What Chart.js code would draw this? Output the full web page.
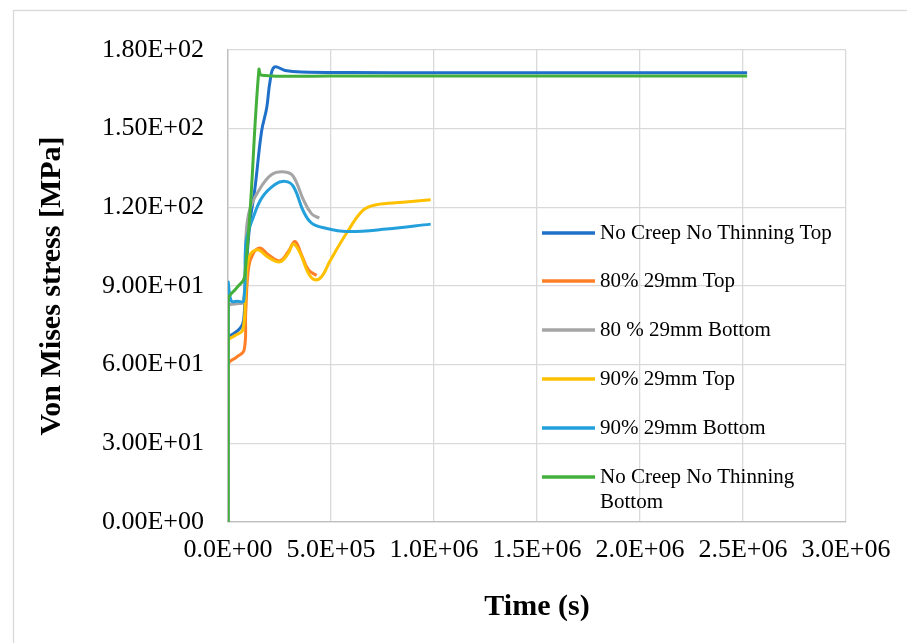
<!DOCTYPE html>
<html>
<head>
<meta charset="utf-8">
<script src="https://cdn.jsdelivr.net/npm/chart.js@4/dist/chart.umd.min.js"></script>
<style>
  body { margin: 0; background: #fff; }
</style>
</head>
<body>
<canvas id="stressChart" width="907" height="643"></canvas>
<script>
// series labels
const seriesNames = [
  "No Creep No Thinning Top",
  "80% 29mm Top",
  "80 % 29mm Bottom",
  "90% 29mm Top",
  "90% 29mm Bottom",
  "No Creep No Thinning Bottom",
];
const seriesColors = ["#1f70c8", "#ff7f27", "#a5a5a5", "#ffc000", "#23a0dc", "#44b03c"];

// time (s) and von mises stress (MPa)
const noCreepTopT = [0, 1e3, 3e4, 6e4, 7.6e4, 8.5e4, 1.05e5, 1.31e5, 1.63e5, 1.88e5, 2.04e5, 2.25e5, 2.77e5, 3.57e5, 6e5, 1e6, 1.5e6, 2e6, 2.52e6];
const noCreepTopS = [0, 70.1, 72, 74, 77, 92, 113, 127.4, 149, 158, 168, 173.5, 172.2, 171.6, 171.4, 171.3, 171.3, 171.3, 171.3];

const top80T = [0, 1e3, 4e4, 7.8e4, 8.6e4, 1.0e5, 1.23e5, 1.55e5, 1.96e5, 2.52e5, 2.93e5, 3.25e5, 3.57e5, 3.9e5, 4.3e5];
const top80S = [0, 60, 62.8, 65.5, 80, 97, 102.5, 104.5, 101.9, 99.6, 103.2, 107, 101.9, 96.2, 94];

const bottom80T = [0, 1e3, 4e4, 7.5e4, 8.8e4, 1.05e5, 1.47e5, 2.12e5, 2.77e5, 3.17e5, 3.66e5, 4.06e5, 4.43e5];
const bottom80S = [0, 82.2, 83.2, 84, 110, 119, 126.1, 132.5, 133.5, 131.8, 122.9, 117.5, 115.9];

const top90T = [0, 1e3, 3.6e4, 7.2e4, 8.6e4, 1.02e5, 1.42e5, 1.96e5, 2.52e5, 2.93e5, 3.17e5, 3.5e5, 3.9e5, 4.22e5, 4.55e5, 4.95e5, 5.76e5, 6.57e5, 7.2e5, 8.5e5, 9.84e5];
const top90S = [0, 69, 71.2, 73.3, 88.5, 101, 103.8, 100.9, 99.2, 102.5, 106, 102.6, 94.9, 92.4, 93.6, 99.5, 110.2, 119, 121, 121.9, 122.9];

const bottom90T = [0, 1e3, 1.6e4, 4.6e4, 7.6e4, 8.6e4, 1.0e5, 1.15e5, 1.64e5, 2.28e5, 2.77e5, 3.17e5, 3.66e5, 4.06e5, 4.71e5, 5.76e5, 7.7e5, 9.84e5];
const bottom90S = [0, 91, 84.3, 84.2, 84.3, 106, 111, 114.6, 123.6, 128.7, 129.9, 128, 118.5, 114, 112.1, 110.8, 111.7, 113.6];

const noCreepBottomT = [0, 1e3, 4.1e4, 8.1e4, 1.5e5, 1.63e5, 5e5, 1e6, 1.5e6, 2e6, 2.52e6];
const noCreepBottomS = [0, 84.7, 89.2, 93.6, 172.6, 170.4, 170.1, 170.1, 170.1, 170.1, 170.1];

const xTicks = [0, 5e5, 1e6, 1.5e6, 2e6, 2.5e6, 3e6];
const yTicks = [0, 30, 60, 90, 120, 150, 180];

const seriesT = [noCreepTopT, top80T, bottom80T, top90T, bottom90T, noCreepBottomT];
const seriesS = [noCreepTopS, top80S, bottom80S, top90S, bottom90S, noCreepBottomS];

function sci(v, d) {
  if (v === 0) return (0).toFixed(d) + "E+00";
  const e = Math.floor(Math.log10(Math.abs(v)) + 1e-9);
  const m = v / Math.pow(10, e);
  return m.toFixed(d) + "E" + (e < 0 ? "-" : "+") + String(Math.abs(e)).padStart(2, "0");
}

const serif = "'Liberation Serif', 'Times New Roman', serif";

// legend drawn inside the plot, like the excel original
const insideLegend = {
  id: "insideLegend",
  afterDraw(chart) {
    const ctx = chart.ctx;
    const rows = [233, 281, 330, 379, 428, 477];
    ctx.save();
    ctx.font = "21px " + serif;
    ctx.fillStyle = "#000";
    ctx.textBaseline = "middle";
    chart.data.datasets.forEach((ds, i) => {
      const y = rows[i];
      ctx.strokeStyle = ds.borderColor;
      ctx.lineWidth = 3.5;
      ctx.beginPath();
      ctx.moveTo(542, y);
      ctx.lineTo(595, y);
      ctx.stroke();
      // simple word wrap
      const words = ds.label.split(" ");
      let line = "";
      let yy = y;
      words.forEach((w) => {
        const test = line ? line + " " + w : w;
        if (ctx.measureText(test).width > 240 && line) {
          ctx.fillText(line, 600, yy);
          line = w;
          yy += 25;
        } else {
          line = test;
        }
      });
      ctx.fillText(line, 600, yy);
    });
    ctx.restore();
  },
};

const outerBorder = {
  id: "outerBorder",
  beforeDraw(chart) {
    const ctx = chart.ctx;
    ctx.save();
    ctx.fillStyle = "#fff";
    ctx.fillRect(0, 0, chart.width, chart.height);
    ctx.strokeStyle = "#d9d9d9";
    ctx.lineWidth = 1.3;
    ctx.strokeRect(13.5, 10.5, 1000, 1000);
    ctx.restore();
  },
};

new Chart(document.getElementById("stressChart").getContext("2d"), {
  type: "scatter",
  data: {
    datasets: seriesNames.map((name, i) => ({
      label: name,
      data: seriesT[i].map((t, j) => ({ x: t, y: seriesS[i][j] })),
      borderColor: seriesColors[i],
      backgroundColor: seriesColors[i],
      borderWidth: 3,
      showLine: true,
      pointRadius: 0,
      tension: 0.4,
      order: seriesNames.length - i,
    })),
  },
  options: {
    responsive: false,
    animation: false,
    layout: { padding: { top: 50, right: 61, bottom: 0, left: 0 } },
    plugins: {
      legend: { display: false },
      tooltip: { enabled: false },
    },
    scales: {
      x: {
        type: "linear",
        min: 0,
        max: 3e6,
        afterBuildTicks: (scale) => { scale.ticks = xTicks.map((v) => ({ value: v })); },
        afterFit: (scale) => { scale.height = 121; },
        grid: { color: (c) => (c.tick && c.tick.value === 0 ? "#bfbfbf" : "#d9d9d9"), lineWidth: 1.3, drawTicks: false },
        border: { color: "#bfbfbf", width: 1.3 },
        ticks: {
          padding: 13,
          color: "#000",
          font: { family: serif, size: 26 },
          maxRotation: 0,
          callback: (v) => sci(v, 1),
        },
        title: {
          display: true,
          text: "Time (s)",
          color: "#000",
          font: { family: serif, size: 30, weight: "bold" },
          padding: { top: 0, bottom: 18 },
        },
      },
      y: {
        min: 0,
        max: 180,
        afterBuildTicks: (scale) => { scale.ticks = yTicks.map((v) => ({ value: v })); },
        afterFit: (scale) => { scale.width = 228; },
        grid: { color: (c) => (c.tick && c.tick.value === 0 ? "#bfbfbf" : "#d9d9d9"), lineWidth: 1.3, drawTicks: false },
        border: { color: "#bfbfbf", width: 1.3 },
        ticks: {
          padding: 24,
          color: "#000",
          font: { family: serif, size: 26 },
          callback: (v) => sci(v, 2),
        },
        title: {
          display: true,
          text: "Von Mises stress [MPa]",
          color: "#000",
          font: { family: serif, size: 30, weight: "bold" },
          padding: { top: 34, bottom: 0 },
        },
      },
    },
  },
  plugins: [outerBorder, insideLegend],
});
</script>
</body>
</html>
